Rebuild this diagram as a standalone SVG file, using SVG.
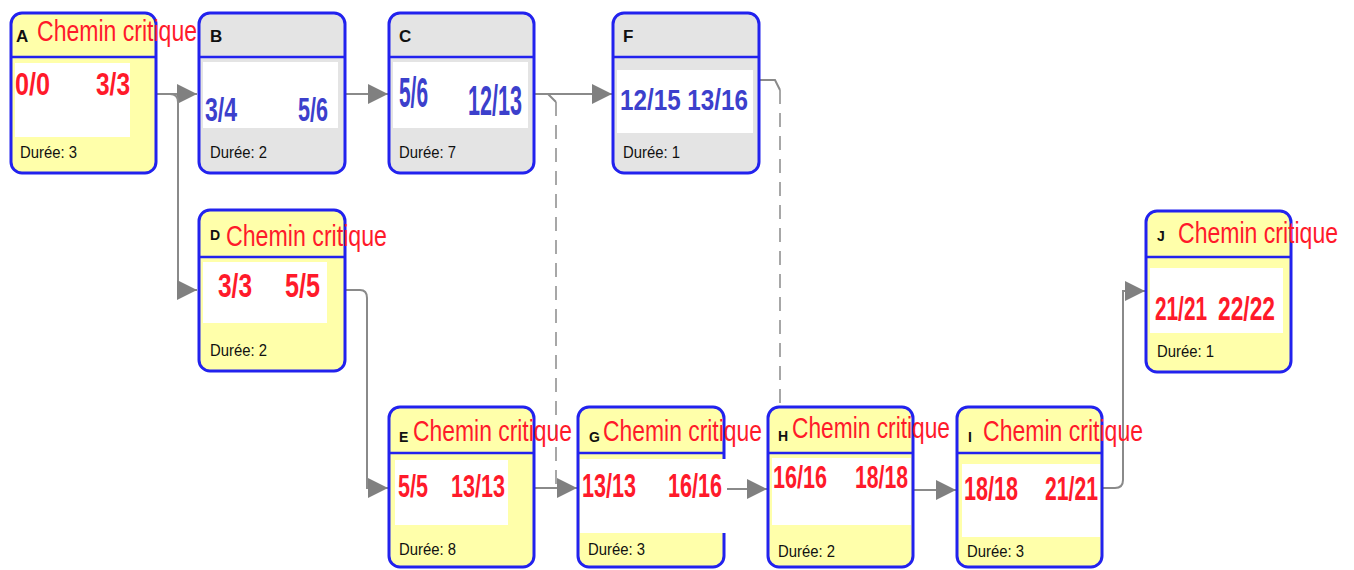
<svg xmlns="http://www.w3.org/2000/svg" width="1354" height="570" viewBox="0 0 1354 570">
<style>
.box{stroke:#2222ee;stroke-width:3}
.yel{fill:#ffffaa}
.gry{fill:#e4e4e4}
.sep{stroke:#2222ee;stroke-width:2.5}
.wb{fill:#ffffff}
.id{font-family:"Liberation Sans",Arial,sans-serif;font-weight:bold;fill:#111}
.cc{font-family:"Liberation Sans",Arial,sans-serif;font-size:30px;fill:#ff1a2a}
.du{font-family:"Liberation Sans",Arial,sans-serif;font-size:16px;fill:#111}
.rn{font-family:"Liberation Sans",Arial,sans-serif;font-weight:bold;fill:#ff1a2a}
.bn{font-family:"Liberation Sans",Arial,sans-serif;font-weight:bold;fill:#3c40cc}
.ln{fill:none;stroke:#8a8a8a;stroke-width:2}
.dl{fill:none;stroke:#8a8a8a;stroke-width:1.5;stroke-dasharray:14 9}
</style>
<defs>
<marker id="ar" viewBox="0 0 20 20" refX="20" refY="10" markerWidth="20" markerHeight="20" markerUnits="userSpaceOnUse" orient="auto">
<path d="M0,0 L20,10 L0,20 z" fill="#808080"/>
</marker>
</defs>
<rect width="1354" height="570" fill="#ffffff"/>

<g id="connectors">
<path class="ln" d="M157,94 H197" marker-end="url(#ar)"/>
<path class="ln" d="M170,94 Q178,94 178,102 V290 H197" marker-end="url(#ar)"/>
<path class="ln" d="M346,94 H388" marker-end="url(#ar)"/>
<path class="ln" d="M535,94 H612" marker-end="url(#ar)"/>
<path class="ln" d="M540,94 H548 L556,102"/>
<path class="dl" d="M556,102 V487"/>
<path class="ln" d="M760,80 H775 L780,90"/>
<path class="dl" d="M780,90 V405"/>
<path class="ln" d="M346,290 H360 Q367,290 367,298 V488 H388" marker-end="url(#ar)"/>
<path class="ln" d="M535,488 H577" marker-end="url(#ar)"/>
<path class="ln" d="M725,489 H767" marker-end="url(#ar)"/>
<path class="ln" d="M914,490 H956" marker-end="url(#ar)"/>
<path class="ln" d="M1103,488 H1115 Q1123,488 1123,480 V291 H1145" marker-end="url(#ar)"/>
</g>

<g id="node-A">
<rect class="box yel" x="11" y="13" width="145" height="160" rx="11"/>
<rect class="wb" x="15" y="63" width="115" height="74"/>
<line class="sep" x1="11" y1="57" x2="156" y2="57"/>
<text class="id" x="16" y="42" font-size="17">A</text>
<text class="cc" x="37" y="41" textLength="160" lengthAdjust="spacingAndGlyphs">Chemin critique</text>
<text class="rn" x="15" y="95" font-size="32" textLength="35" lengthAdjust="spacingAndGlyphs">0/0</text>
<text class="rn" x="96" y="95" font-size="32" textLength="34" lengthAdjust="spacingAndGlyphs">3/3</text>
<text class="du" x="20" y="158" textLength="57" lengthAdjust="spacingAndGlyphs">Durée: 3</text>
</g>

<g id="node-B">
<rect class="box gry" x="199" y="13" width="146" height="160" rx="11"/>
<rect class="wb" x="203" y="62" width="135" height="66"/>
<line class="sep" x1="199" y1="57" x2="345" y2="57"/>
<text class="id" x="210" y="42" font-size="17">B</text>
<text class="bn" x="205" y="121" font-size="34" textLength="32" lengthAdjust="spacingAndGlyphs">3/4</text>
<text class="bn" x="298" y="121" font-size="34" textLength="30" lengthAdjust="spacingAndGlyphs">5/6</text>
<text class="du" x="210" y="158" textLength="57" lengthAdjust="spacingAndGlyphs">Durée: 2</text>
</g>

<g id="node-C">
<rect class="box gry" x="389" y="13" width="145" height="160" rx="11"/>
<rect class="wb" x="393" y="62" width="135" height="66"/>
<line class="sep" x1="389" y1="57" x2="534" y2="57"/>
<text class="id" x="399" y="42" font-size="17">C</text>
<text class="bn" x="399" y="107" font-size="42" textLength="29" lengthAdjust="spacingAndGlyphs">5/6</text>
<text class="bn" x="468" y="115" font-size="42" textLength="54" lengthAdjust="spacingAndGlyphs">12/13</text>
<text class="du" x="399" y="158" textLength="57" lengthAdjust="spacingAndGlyphs">Durée: 7</text>
</g>

<g id="node-F">
<rect class="box gry" x="613" y="13" width="146" height="160" rx="11"/>
<rect class="wb" x="617" y="70" width="136" height="63"/>
<line class="sep" x1="613" y1="57" x2="759" y2="57"/>
<text class="id" x="623" y="42" font-size="17">F</text>
<text class="bn" x="620" y="110" font-size="30" textLength="128" lengthAdjust="spacingAndGlyphs">12/15 13/16</text>
<text class="du" x="623" y="158" textLength="57" lengthAdjust="spacingAndGlyphs">Durée: 1</text>
</g>

<g id="node-D">
<rect class="box yel" x="199" y="210" width="146" height="161" rx="11"/>
<rect class="wb" x="203" y="262" width="124" height="61"/>
<line class="sep" x1="199" y1="257" x2="345" y2="257"/>
<text class="id" x="210" y="240" font-size="14">D</text>
<text class="cc" x="226" y="246" textLength="161" lengthAdjust="spacingAndGlyphs">Chemin critique</text>
<text class="rn" x="218" y="297" font-size="34" textLength="34" lengthAdjust="spacingAndGlyphs">3/3</text>
<text class="rn" x="285" y="297" font-size="34" textLength="35" lengthAdjust="spacingAndGlyphs">5/5</text>
<text class="du" x="210" y="356" textLength="57" lengthAdjust="spacingAndGlyphs">Durée: 2</text>
</g>

<g id="node-J">
<rect class="box yel" x="1146" y="211" width="145" height="161" rx="11"/>
<rect class="wb" x="1150" y="268" width="133" height="65"/>
<line class="sep" x1="1146" y1="257" x2="1291" y2="257"/>
<text class="id" x="1157" y="241" font-size="14">J</text>
<text class="cc" x="1178" y="243" textLength="160" lengthAdjust="spacingAndGlyphs">Chemin critique</text>
<text class="rn" x="1155" y="320" font-size="34" textLength="52" lengthAdjust="spacingAndGlyphs">21/21</text>
<text class="rn" x="1218" y="320" font-size="34" textLength="57" lengthAdjust="spacingAndGlyphs">22/22</text>
<text class="du" x="1157" y="357" textLength="57" lengthAdjust="spacingAndGlyphs">Durée: 1</text>
</g>

<g id="node-E">
<rect class="box yel" x="389" y="407" width="145" height="160" rx="11"/>
<rect class="wb" x="395" y="460" width="113" height="65"/>
<line class="sep" x1="389" y1="453" x2="534" y2="453"/>
<text class="id" x="399" y="442" font-size="14">E</text>
<text class="cc" x="413" y="441" textLength="159" lengthAdjust="spacingAndGlyphs">Chemin critique</text>
<text class="rn" x="398" y="497" font-size="31" textLength="30" lengthAdjust="spacingAndGlyphs">5/5</text>
<text class="rn" x="451" y="497" font-size="31" textLength="54" lengthAdjust="spacingAndGlyphs">13/13</text>
<text class="du" x="399" y="555" textLength="57" lengthAdjust="spacingAndGlyphs">Durée: 8</text>
</g>

<g id="node-G">
<rect class="box yel" x="578" y="407" width="146" height="160" rx="11"/>
<rect class="wb" x="580" y="459" width="147" height="74"/>
<line class="sep" x1="578" y1="453" x2="724" y2="453"/>
<text class="id" x="589" y="442" font-size="14">G</text>
<text class="cc" x="603" y="441" textLength="159" lengthAdjust="spacingAndGlyphs">Chemin critique</text>
<text class="rn" x="582" y="497" font-size="34" textLength="54" lengthAdjust="spacingAndGlyphs">13/13</text>
<text class="rn" x="668" y="497" font-size="34" textLength="54" lengthAdjust="spacingAndGlyphs">16/16</text>
<text class="du" x="588" y="555" textLength="57" lengthAdjust="spacingAndGlyphs">Durée: 3</text>
</g>

<g id="node-H">
<rect class="box yel" x="768" y="407" width="145" height="160" rx="11"/>
<rect class="wb" x="772" y="458" width="139" height="67"/>
<line class="sep" x1="768" y1="453" x2="913" y2="453"/>
<text class="id" x="778" y="441" font-size="14">H</text>
<text class="cc" x="792" y="438" textLength="158" lengthAdjust="spacingAndGlyphs">Chemin critique</text>
<text class="rn" x="773" y="488" font-size="32" textLength="54" lengthAdjust="spacingAndGlyphs">16/16</text>
<text class="rn" x="855" y="488" font-size="32" textLength="53" lengthAdjust="spacingAndGlyphs">18/18</text>
<text class="du" x="778" y="557" textLength="57" lengthAdjust="spacingAndGlyphs">Durée: 2</text>
</g>

<g id="node-I">
<rect class="box yel" x="957" y="407" width="145" height="160" rx="11"/>
<rect class="wb" x="962" y="464" width="138" height="73"/>
<line class="sep" x1="957" y1="453" x2="1102" y2="453"/>
<text class="id" x="968" y="442" font-size="14">I</text>
<text class="cc" x="983" y="441" textLength="160" lengthAdjust="spacingAndGlyphs">Chemin critique</text>
<text class="rn" x="964" y="500" font-size="34" textLength="54" lengthAdjust="spacingAndGlyphs">18/18</text>
<text class="rn" x="1045" y="500" font-size="34" textLength="53" lengthAdjust="spacingAndGlyphs">21/21</text>
<text class="du" x="967" y="557" textLength="57" lengthAdjust="spacingAndGlyphs">Durée: 3</text>
</g>
</svg>
